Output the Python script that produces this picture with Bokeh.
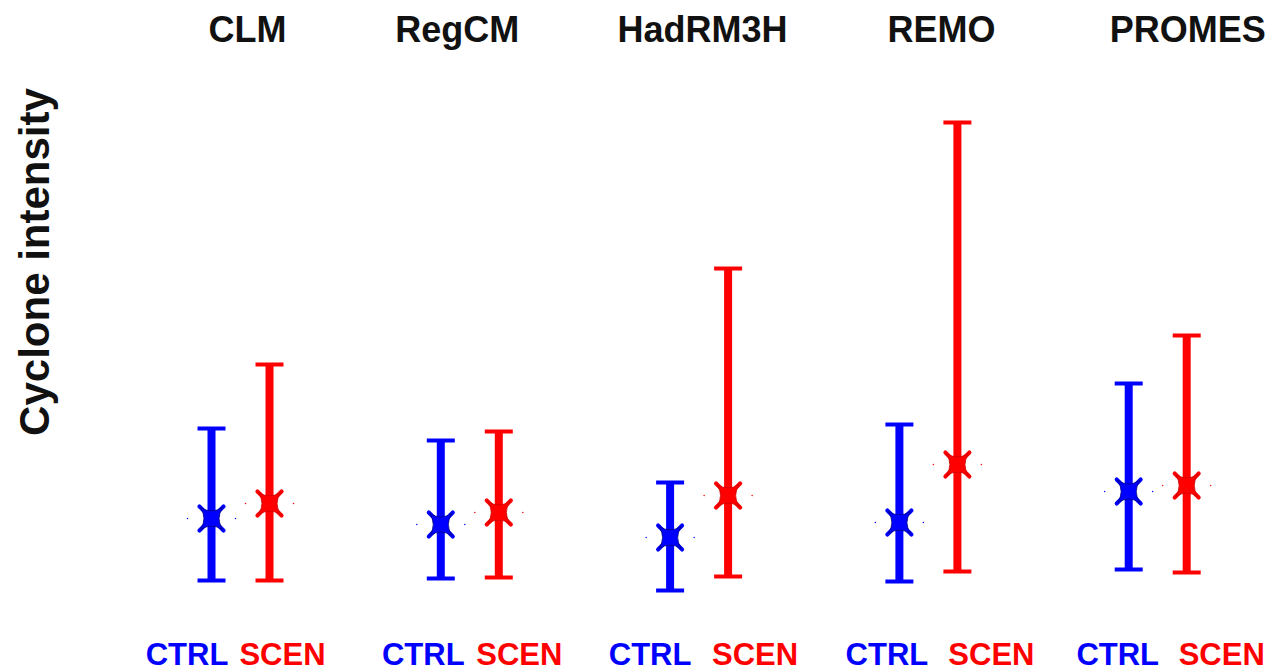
import numpy as np
from bokeh.plotting import figure
from bokeh.models import ColumnDataSource
from bokeh.core.properties import value
from bokeh.embed import file_html
from bokeh.resources import INLINE

# ---- data (arbitrary intensity units) ----
models = ["CLM", "RegCM", "HadRM3H", "REMO", "PROMES"]
ctrl_low = [2.0, 2.2, 1.0, 1.9, 3.1]
ctrl_mean = [8.2, 7.6, 6.3, 7.8, 10.9]
ctrl_high = [17.2, 16.0, 11.8, 17.6, 21.7]
scen_low = [2.0, 2.3, 2.4, 2.9, 2.8]
scen_mean = [9.7, 8.8, 10.5, 13.6, 11.5]
scen_high = [23.6, 16.9, 33.2, 47.8, 26.5]
series_labels = ["CTRL", "SCEN"]
ylabel = "Cyclone intensity"

# ---- layout helpers (pixel nudges, converted to group units) ----
W, H = 1272, 671
GROUP_PX = 229.3
C0_PX = 240.0
BAR_OFF = 29.0 / GROUP_PX
title_dx_px = [7, -12.5, 3.5, 13, 30]
ctrl_dx_px = [-53.5, -46.5, -49, -41.5, -40]
scen_dx_px = [42, 49.5, 56, 63, 64]

g = np.arange(len(models), dtype=float)
xr = (-C0_PX / GROUP_PX, (W - C0_PX) / GROUP_PX)
yr = (-7.1, 60.0)


def ypx(py):
    return (600 - py) / 10.0


p = figure(width=W, height=H, x_range=xr, y_range=yr,
           output_backend="svg", toolbar_location=None,
           min_border=0, min_border_left=0, min_border_right=0,
           min_border_top=0, min_border_bottom=0)
p.xaxis.visible = False
p.yaxis.visible = False
p.grid.visible = False
p.outline_line_color = None
p.background_fill_color = "white"
p.border_fill_color = "white"

BLUE = "#0000FF"
RED = "#FF0000"
FONT = value("Liberation Sans")

for off, lo, mid, hi, col, edge in [
    (-BAR_OFF, ctrl_low, ctrl_mean, ctrl_high, BLUE, "#000080"),
    (BAR_OFF, scen_low, scen_mean, scen_high, RED, "#CC0000"),
]:
    x = g + off
    src = ColumnDataSource(dict(x=x, lo=lo, mid=mid, hi=hi))
    p.segment(x0="x", y0="lo", x1="x", y1="hi", source=src,
              line_color=col, line_width=8)
    p.scatter(x="x", y="lo", source=src, marker="dash", size=28,
              line_color=col, line_width=4)
    p.scatter(x="x", y="hi", source=src, marker="dash", size=28,
              line_color=col, line_width=4)
    # tiny dots beside the means
    p.scatter(x=np.concatenate([x - 24 / GROUP_PX, x + 24 / GROUP_PX]),
              y=np.concatenate([mid, mid]), marker="circle", size=1.5,
              fill_color=col, line_color=None)
    # four-pointed star marker at the mean
    p.scatter(x="x", y="mid", source=src, marker="x", size=34,
              line_color=col, line_width=4, line_cap="round")
    p.scatter(x="x", y="mid", source=src, marker="square_pin", size=22,
              fill_color=col, line_color=edge, line_width=0.8)

# titles
p.text(x=g + np.array(title_dx_px) / GROUP_PX, y=[ypx(28.5)] * len(models),
       text=models, text_font=FONT, text_font_style="bold",
       text_font_size="36px", text_color="#111111",
       text_align="center", text_baseline="middle")

# series labels
p.text(x=g + np.array(ctrl_dx_px) / GROUP_PX, y=[ypx(654)] * len(models),
       text=[series_labels[0]] * len(models), text_font=FONT,
       text_font_style="bold", text_font_size="31px", text_color=BLUE,
       text_align="center", text_baseline="middle")
p.text(x=g + np.array(scen_dx_px) / GROUP_PX, y=[ypx(654)] * len(models),
       text=[series_labels[1]] * len(models), text_font=FONT,
       text_font_style="bold", text_font_size="31px", text_color=RED,
       text_align="center", text_baseline="middle")

# y label
p.text(x=[(34 - C0_PX) / GROUP_PX], y=[ypx(261.5)], text=[ylabel],
       angle=np.pi / 2, text_font=FONT, text_font_style="bold",
       text_font_size="42px", text_color="#111111",
       text_align="center", text_baseline="middle")

open("out.html", "w").write(file_html(p, INLINE))
